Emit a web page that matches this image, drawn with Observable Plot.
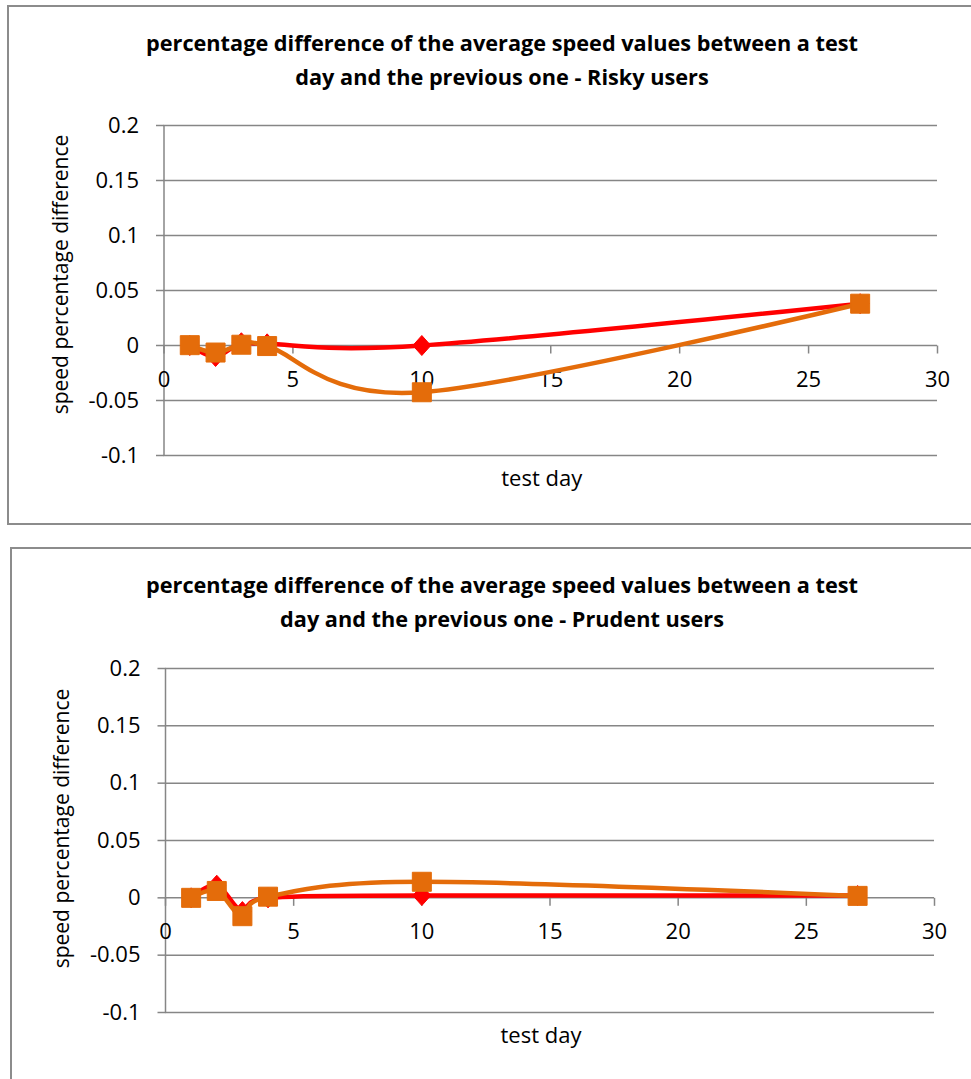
<!DOCTYPE html>
<html><head><meta charset="utf-8">
<script src="https://cdn.jsdelivr.net/npm/d3@7"></script>
<script src="https://cdn.jsdelivr.net/npm/@observablehq/plot@0.6"></script>
<style>
body{margin:0;width:971px;height:1079px;overflow:hidden;background:#fff;position:relative;font-family:"Open Sans",sans-serif;}
.box{position:absolute;box-sizing:border-box;border:2px solid #8c8c8c;}
.title{position:absolute;left:0;width:1004px;text-align:center;font-weight:bold;font-size:21.7px;line-height:34px;color:#000;z-index:2;}
.chart{position:absolute;left:0;z-index:1;}
</style></head><body>
<div class="box" style="left:7px;top:5px;width:1100px;height:520px"></div>
<div class="box" style="left:10px;top:547px;width:1100px;height:560px"></div>
<div id="c1" class="chart" style="top:100px"></div>
<div id="c2" class="chart" style="top:640px"></div>
<div class="title" style="top:26px">percentage difference of the average speed values between a test<br>day and the previous one - Risky users</div>
<div class="title" style="top:568px">percentage difference of the average speed values between a test<br>day and the previous one - Prudent users</div>
<script>
// ---- data ----
const days = [1, 2, 3, 4, 10, 27];
const riskyRed = [0, -0.010, 0.0025, 0.0015, 0, 0.038];
const riskyOrange = [0.0003, -0.0064, 0.0007, -0.0005, -0.0425, 0.038];
const prudentRed = [0, 0.011, -0.012, 0, 0.002, 0.002];
const prudentOrange = [0, 0.006, -0.016, 0.001, 0.014, 0.0017];
const xTicks = [0, 5, 10, 15, 20, 25, 30];
const yTicks = [-0.1, -0.05, 0, 0.05, 0.1, 0.15, 0.2];
const yTickLabels = ["-0.1", "-0.05", "0", "0.05", "0.1", "0.15", "0.2"];
const xLabel = "test day";
const yLabel = "speed percentage difference";

const GRAY = "#868686", RED = "#ff0000", ORANGE = "#e46c0a";

const diamond = {draw(ctx, size) { const r = Math.sqrt(size / Math.PI); const w = r * 0.9;
  ctx.moveTo(0, -r); ctx.lineTo(w, 0); ctx.lineTo(0, r); ctx.lineTo(-w, 0); ctx.closePath(); }};
const square = {draw(ctx, size) { const r = Math.sqrt(size / Math.PI);
  ctx.rect(-r, -r, 2 * r, 2 * r); }};
const tickDown = {draw(ctx) { ctx.moveTo(0, 0); ctx.lineTo(0, 8); }};
const tickLeft = {draw(ctx) { ctx.moveTo(0, 0); ctx.lineTo(-8, 0); }};

function panel(el, red, orange, m, H, yTitleDy) {
  const chart = Plot.plot({
    width: 971, height: H,
    marginLeft: m.left, marginRight: m.right, marginTop: m.top, marginBottom: m.bottom,
    style: {background: "transparent", fontFamily: "Open Sans, sans-serif", fontSize: "22px", color: "#000", overflow: "visible"},
    x: {domain: [0, 30], axis: null},
    y: {domain: [-0.1, 0.2], axis: null},
    marks: [
      Plot.ruleY(yTicks, {y: d => d, stroke: GRAY, strokeWidth: 1.5}),
      Plot.ruleX([0], {stroke: GRAY, strokeWidth: 1.5}),
      Plot.dot(yTicks, {x: () => 0, y: d => d, symbol: tickLeft, fill: "none", stroke: GRAY, strokeWidth: 1.5}),
      Plot.dot(xTicks, {x: d => d, y: () => 0, symbol: tickDown, fill: "none", stroke: GRAY, strokeWidth: 1.5}),
      Plot.text(yTicks, {y: d => d, frameAnchor: "left", text: (d, i) => yTickLabels[i], textAnchor: "end", lineAnchor: "middle", dx: -25, fontSize: 22, fill: "#000"}),
      Plot.text(xTicks, {x: d => d, y: () => 0, dy: 34, text: d => String(d), fontSize: 22, fill: "#000"}),
      Plot.line(red, {x: days, y: red, curve: "cardinal", tension: 0, stroke: RED, strokeWidth: 4.5}),
      Plot.dot(red, {x: days, y: red, symbol: diamond, r: 10, fill: RED, stroke: RED, strokeWidth: 1}),
      Plot.line(orange, {x: days, y: orange, curve: "cardinal", tension: 0, stroke: ORANGE, strokeWidth: 4.5}),
      Plot.dot(orange, {x: days, y: orange, symbol: square, r: 9.5, fill: ORANGE, stroke: ORANGE, strokeWidth: 1}),
      Plot.text([xLabel], {frameAnchor: "bottom", textAnchor: "middle", lineAnchor: "middle", dy: 23, dx: -9, fontSize: 22, fill: "#000"}),
      Plot.text([yLabel], {frameAnchor: "left", textAnchor: "middle", lineAnchor: "middle", rotate: -90, dx: -103, dy: yTitleDy, fontSize: 21, fill: "#000"})
    ]
  });
  document.getElementById(el).appendChild(chart);
}

panel("c1", riskyRed, riskyOrange, {left: 163.5, right: 34, top: 25, bottom: 45}, 400, -16);
panel("c2", prudentRed, prudentOrange, {left: 165, right: 37, top: 28, bottom: 58}, 430, -12);
</script>
</body></html>
